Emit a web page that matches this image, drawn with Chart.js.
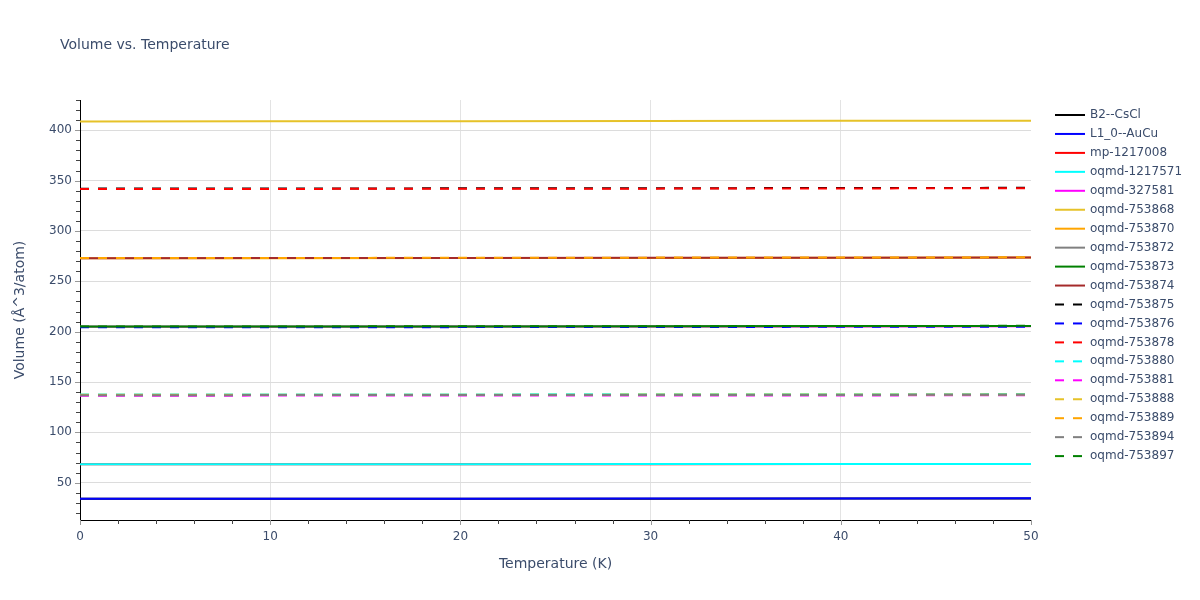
<!DOCTYPE html>
<html>
<head>
<meta charset="utf-8">
<script src="https://cdn.jsdelivr.net/npm/chart.js@4.4.1/dist/chart.umd.min.js"></script>
<style>
  html, body { margin: 0; padding: 0; background: #fff; }
  #wrap { width: 1200px; height: 600px; position: relative; }
</style>
</head>
<body>
<div id="wrap"><canvas id="vol-chart" width="1200" height="600"></canvas></div>
<script>
const tempK = [0, 10, 20, 30, 40, 50];

const seriesNames = [
  "B2--CsCl", "L1_0--AuCu", "mp-1217008", "oqmd-1217571", "oqmd-327581",
  "oqmd-753868", "oqmd-753870", "oqmd-753872", "oqmd-753873", "oqmd-753874",
  "oqmd-753875", "oqmd-753876", "oqmd-753878", "oqmd-753880", "oqmd-753881",
  "oqmd-753888", "oqmd-753889", "oqmd-753894", "oqmd-753897"
];

const b2CsCl      = [34.0, 34.1, 34.1, 34.2, 34.3, 34.4];
const l10AuCu     = [34.1, 34.2, 34.2, 34.3, 34.4, 34.5];
const mp1217008   = [68.3, 68.3, 68.4, 68.4, 68.5, 68.5];
const oqmd1217571 = [68.3, 68.4, 68.4, 68.5, 68.5, 68.6];
const oqmd327581  = [204.8, 204.9, 205.0, 205.1, 205.2, 205.4];
const oqmd753868  = [408.6, 408.8, 408.9, 409.1, 409.3, 409.5];
const oqmd753870  = [272.8, 272.9, 273.1, 273.2, 273.4, 273.6];
const oqmd753872  = [204.9, 205.0, 205.1, 205.2, 205.4, 205.6];
const oqmd753873  = [205.0, 205.1, 205.2, 205.3, 205.5, 205.7];
const oqmd753874  = [273.0, 273.1, 273.2, 273.4, 273.5, 273.7];
const oqmd753875  = [342.0, 342.1, 342.3, 342.4, 342.6, 342.8];
const oqmd753876  = [204.3, 204.4, 204.5, 204.6, 204.8, 205.0];
const oqmd753878  = [341.6, 341.7, 341.9, 342.0, 342.2, 342.4];
const oqmd753880  = [137.6, 137.6, 137.7, 137.8, 137.9, 138.0];
const oqmd753881  = [136.4, 136.5, 136.5, 136.6, 136.7, 136.8];
const oqmd753888  = [137.3, 137.3, 137.4, 137.5, 137.6, 137.7];
const oqmd753889  = [273.1, 273.2, 273.3, 273.5, 273.6, 273.8];
const oqmd753894  = [136.9, 137.0, 137.0, 137.1, 137.2, 137.3];
const oqmd753897  = [205.1, 205.2, 205.3, 205.4, 205.6, 205.8];

const seriesValues = [
  b2CsCl, l10AuCu, mp1217008, oqmd1217571, oqmd327581,
  oqmd753868, oqmd753870, oqmd753872, oqmd753873, oqmd753874,
  oqmd753875, oqmd753876, oqmd753878, oqmd753880, oqmd753881,
  oqmd753888, oqmd753889, oqmd753894, oqmd753897
];

const xTickValues = [0, 10, 20, 30, 40, 50];
const yTickValues = [50, 100, 150, 200, 250, 300, 350, 400];

// solid colours then the same cycle dashed
const palette = ["#000000", "#0000ff", "#ff0000", "#00ffff", "#ff00ff",
                 "#e6c229", "#ffa500", "#808080", "#008000", "#a52a2a"];

const textColor = "#3b4c6b";
const fontFam = "'DejaVu Sans', Verdana, sans-serif";

const datasets = seriesNames.map((name, i) => {
  const dashed = i >= 10;
  return {
    label: name,
    data: tempK.map((t, j) => ({x: t, y: seriesValues[i][j]})),
    borderColor: palette[i % 10],
    backgroundColor: palette[i % 10],
    borderWidth: 2,
    borderDash: dashed ? [9, 9] : [],
    pointRadius: 0,
    tension: 0,
    fill: false,
    order: seriesNames.length - i   // later traces on top
  };
});

// title, minor ticks and legend drawn by hand
const extrasPlugin = {
  id: "extras",
  afterDraw(chart) {
    const ctx = chart.ctx;
    const area = chart.chartArea;
    const xs = chart.scales.x, ys = chart.scales.y;
    ctx.save();

    // title
    ctx.fillStyle = textColor;
    ctx.font = "14px " + fontFam;
    ctx.textAlign = "left";
    ctx.textBaseline = "middle";
    ctx.fillText("Volume vs. Temperature", 60, 45);

    // ticks
    ctx.lineWidth = 1;
    for (let v = 20; v <= 430; v += 10) {
      const py = Math.round(ys.getPixelForValue(v)) + 0.5;
      const major = v % 50 === 0;
      ctx.strokeStyle = major ? "#999" : "#444";
      ctx.beginPath();
      ctx.moveTo(area.left - (major ? 5 : 4), py);
      ctx.lineTo(area.left, py);
      ctx.stroke();
    }
    for (let v = 0; v <= 50; v += 2) {
      const px = Math.round(xs.getPixelForValue(v)) + 0.5;
      const major = v % 10 === 0;
      ctx.strokeStyle = major ? "#999" : "#444";
      ctx.beginPath();
      ctx.moveTo(px, area.bottom);
      ctx.lineTo(px, area.bottom + (major ? 5 : 4));
      ctx.stroke();
    }

    // legend
    ctx.font = "12px " + fontFam;
    ctx.textBaseline = "middle";
    chart.data.datasets.forEach((ds, i) => {
      const y = 115 + i * 18.95;
      ctx.strokeStyle = ds.borderColor;
      ctx.lineWidth = 2;
      ctx.setLineDash(ds.borderDash);
      ctx.beginPath();
      ctx.moveTo(1055, y);
      ctx.lineTo(1085, y);
      ctx.stroke();
      ctx.setLineDash([]);
      ctx.fillStyle = textColor;
      ctx.fillText(ds.label, 1090, y);
    });
    ctx.restore();
  }
};

const ctx = document.getElementById("vol-chart").getContext("2d");
new Chart(ctx, {
  type: "line",
  data: { datasets: datasets },
  options: {
    responsive: false,
    animation: false,
    layout: { padding: { left: 0, top: 100, right: 169, bottom: 0 } },
    plugins: {
      legend: { display: false },
      tooltip: { enabled: false },
      title: { display: false }
    },
    scales: {
      x: {
        type: "linear",
        min: 0,
        max: 50,
        afterFit: s => { s.height = 80; },
        afterBuildTicks: s => { s.ticks = xTickValues.map(v => ({value: v})); },
        ticks: { color: textColor, font: { family: fontFam, size: 12 }, padding: 10, maxRotation: 0 },
        grid: {
          drawTicks: false,
          color: c => (c.tick && (c.tick.value === 0 || c.tick.value === 50)) ? "rgba(0,0,0,0)" : "#e3e3e3",
          lineWidth: 1
        },
        border: { display: true, color: "#000", width: 1 },
        title: {
          display: true,
          text: "Temperature (K)",
          color: textColor,
          font: { family: fontFam, size: 14 },
          padding: { top: 0, bottom: 27 }
        }
      },
      y: {
        type: "linear",
        min: 13,
        max: 430,
        afterFit: s => { s.width = 80; },
        afterBuildTicks: s => { s.ticks = yTickValues.map(v => ({value: v})); },
        ticks: { color: textColor, font: { family: fontFam, size: 12 }, padding: 8 },
        grid: { drawTicks: false, color: "#dcdcdc", lineWidth: 1 },
        border: { display: true, color: "#000", width: 1 },
        title: {
          display: true,
          text: "Volume (Å^3/atom)",
          color: textColor,
          font: { family: fontFam, size: 14 },
          padding: { top: 12, bottom: 0 }
        }
      }
    }
  },
  plugins: [extrasPlugin]
});
</script>
</body>
</html>
